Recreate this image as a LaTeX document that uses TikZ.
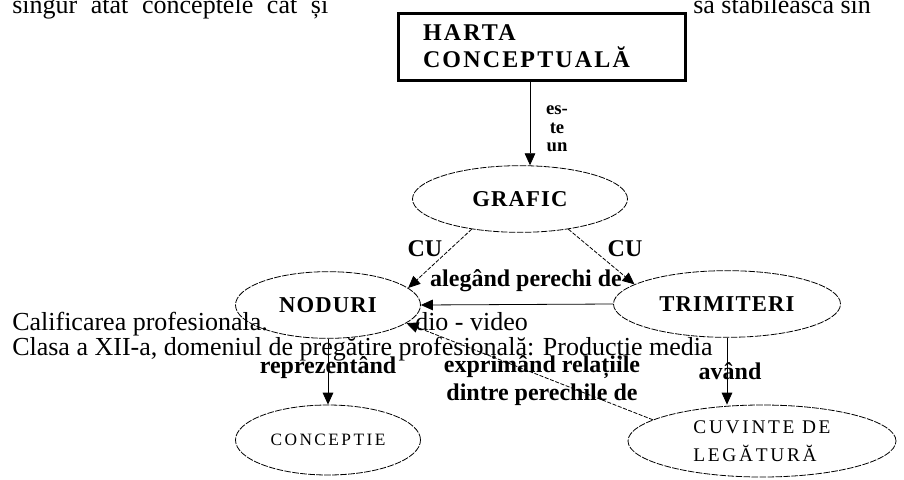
\documentclass[tikz,border=0pt]{standalone}
\usepackage{fontspec}
\setmainfont{Liberation Serif}
\newfontfamily\ovalfont[LetterSpace=5]{Liberation Serif}
\newfontfamily\boxfont[LetterSpace=9]{Liberation Serif}
\newfontfamily\thinfont[LetterSpace=14]{Liberation Serif}
\usetikzlibrary{positioning,arrows.meta,shapes.geometric}

\tikzset{
  pagetext/.style={anchor=base west, inner sep=0pt, font=\fontsize{19.5}{23}\selectfont},
  oval/.style={ellipse, draw, inner sep=0pt, line width=0.6pt, dash pattern=on 5pt off 1pt},
  arr/.style={-{Triangle[width=8pt,length=9pt]}, line width=0.6pt},
  diag/.style={dash pattern=on 3pt off 1.2pt},
  lbl/.style={inner sep=0pt, align=center, font=\bfseries\fontsize{18}{21}\selectfont},
}

\begin{document}
\begin{tikzpicture}[x=0.75pt, y=-0.75pt]
  \useasboundingbox (0,0) rectangle (904,479);
  \clip (0,0) rectangle (904,479);

  % page text around the figure
  \node[pagetext] (top1) at (12,13) {\makebox[237pt][s]{singur atât conceptele cât și}};
  \node[pagetext] (top2) at (693,13) {să stabilească sin};
  \node[pagetext] (foot1) at (12,330) {Calificarea profesionala.};
  \node[pagetext] (foot1b) at (415,330) {dio - video};
  \node[pagetext] (foot2) at (12,355) {Clasa a XII-a, domeniul de pregătire profesională: Producție media};

  % title box
  \node[draw, line width=2.25pt, minimum width=215.25pt, minimum height=50.25pt, inner xsep=18.75pt,
        text width=177.75pt, align=left, font=\boxfont\bfseries\fontsize{18}{20}\selectfont]
        (harta) at (541.5,46.5) {HARTA\\CONCEPTUALĂ};

  % concept ellipses
  \foreach \name/\x/\y/\w/\txt in {grafic/520/199/161.25/GRAFIC, noduri/328/305/138.75/NODURI, trimiteri/727/304/170.25/TRIMITERI} {
    \node[oval, minimum width=\w pt, minimum height=50pt, font=\ovalfont\bfseries\fontsize{17}{19}\selectfont] (\name) at (\x,\y) {\txt};
  }
  \node[oval, minimum width=138.75pt, minimum height=52.5pt, font=\thinfont\fontsize{13}{15}\selectfont] (conceptie) at (328,440) {CONCEPTIE};
  \node[oval, minimum width=201pt, minimum height=54pt, align=left, font=\thinfont\fontsize{14.5}{21}\selectfont] (cuvinte) at (762,441) {CUVINTE DE\\LEGĂTURĂ};

  % links
  \coordinate (stem) at (530,0);
  \draw[arr] (harta.south -| stem) -- (grafic.north -| stem);
  \node[lbl, font=\bfseries\fontsize{14}{14}\selectfont] (este) at (557,129) {es-\\te\\un};

  \draw[arr, diag] (grafic.212) -- (noduri.12);
  \draw[arr, diag] (grafic.328) -- (trimiteri.168);
  \node[lbl] (cu1) at (425,249) {CU};
  \node[lbl] (cu2) at (625,249) {CU};

  \draw[arr] (trimiteri.west) -- (noduri.east);
  \node[lbl] (alegand) at (526,281) {alegând perechi de};

  \draw[arr] (noduri.south) -- (conceptie.north);
  \node[lbl] (repr) at (328,368) {reprezentând};

  \draw[arr] (trimiteri.south) -- (trimiteri.south |- cuvinte.north);
  \node[lbl] (avand) at (730,371) {având};

  \draw[arr, diag] (cuvinte.169) -- (noduri.-13);
  \node[lbl] (expr) at (542,381) {exprimând relațiile\\dintre perechile de};
\end{tikzpicture}
\end{document}
